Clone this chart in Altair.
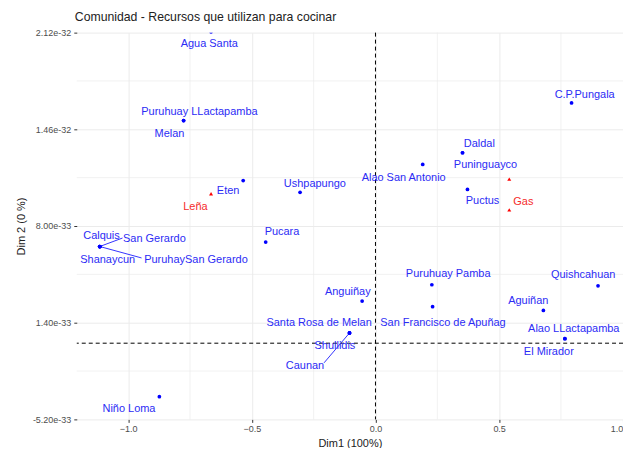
import altair as alt
import pandas as pd

TITLE = "Comunidad - Recursos que utilizan para cocinar"

# Communities (blue) -- point coordinates, y in units of 1e-33
com_names = ["Agua Santa", "Puruhuay LLactapamba", "Melan", "Eten", "Ushpapungo", "Pucara",
             "Calquis", "San Gerardo", "Shanaycun", "PuruhaySan Gerardo", "Niño Loma",
             "Santa Rosa de Melan", "Shullidis", "Caunan", "Anguiñay", "Puruhuay Pamba",
             "San Francisco de Apuñag", "Aguiñan", "Quishcahuan", "Alao LLactapamba", "El Mirador",
             "Alao San Antonio", "Daldal", "Puninguayco", "Puctus", "C.P.Pungala"]
com_x = [-0.665, -0.776, -0.776, -0.535, -0.305, -0.444,
         -1.115, -1.115, -1.115, -1.115, -0.874,
         -0.105, -0.105, -0.105, -0.054, 0.228,
         0.231, 0.679, 0.900, 0.766, 0.766,
         0.191, 0.352, 0.352, 0.372, 0.793]
com_y = [21.25, 15.2, 15.2, 11.1, 10.3, 6.9,
         6.6, 6.6, 6.6, 6.6, -3.65,
         0.7, 0.7, 0.7, 2.88, 3.99,
         2.49, 2.24, 3.92, 0.31, 0.31,
         12.2, 13.0, 13.0, 10.5, 16.4]
# Repelled label positions (data units)
com_lx = [-0.672, -0.712, -0.833, -0.596, -0.245, -0.378,
          -1.108, -0.894, -1.083, -0.726, -0.997,
          -0.228, -0.164, -0.285, -0.112, 0.294,
          0.273, 0.618, 0.840, 0.802, 0.701,
          0.114, 0.420, 0.445, 0.433, 0.846]
com_ly = [20.4, 15.8, 14.3, 10.4, 10.9, 7.6,
          7.3, 7.1, 5.7, 5.67, -4.5,
          1.4, -0.2, -1.57, 3.49, 4.71,
          1.38, 2.9, 4.67, 0.97, -0.62,
          11.3, 13.6, 12.15, 9.7, 16.96]

# Resources (red)
rec_names = ["Leña", "Gas", ""]
rec_x = [-0.665, 0.541, 0.541]
rec_y = [10.2, 9.1, 11.2]
rec_lx = [-0.728, 0.598, 0.541]
rec_ly = [9.3, 9.65, 11.2]

# Label connector segments
seg_x = [-1.115, -1.115, -0.105]
seg_y = [6.6, 6.6, 0.7]
seg_x2 = [-1.023, -0.946, -0.208]
seg_y2 = [7.18, 5.82, -1.34]

x_ticks = [-1.0, -0.5, 0.0, 0.5, 1.0]
x_minor = [-0.75, -0.25, 0.25, 0.75]
y_ticks = [-5.2, 1.4, 8.0, 14.6, 21.2]
y_minor = [-1.9, 4.7, 11.3, 17.9]

S = 1e-33
FONT = "Liberation Sans, Arial"

com = pd.DataFrame({"name": com_names, "x": com_x, "y": [v * S for v in com_y],
                    "lx": com_lx, "ly": [v * S for v in com_ly]})
rec = pd.DataFrame({"name": rec_names, "x": rec_x, "y": [v * S for v in rec_y],
                    "lx": rec_lx, "ly": [v * S for v in rec_ly]})
seg = pd.DataFrame({"x": seg_x, "y": [v * S for v in seg_y],
                    "x2": seg_x2, "y2": [v * S for v in seg_y2]})

xs = alt.Scale(domain=[-1.208, 1.001], nice=False, zero=False)
ys = alt.Scale(domain=[-5.2 * S, 21.2 * S], nice=False, zero=False)

xaxis = alt.Axis(values=x_ticks, format=".1f", grid=True, gridColor="#ebebeb",
                 domain=False, ticks=True, tickSize=3, tickColor="#333333",
                 labelColor="#4d4d4d", labelFontSize=9, labelFont=FONT,
                 title="Dim1 (100%)", titleFont=FONT, titleFontSize=11,
                 titleFontWeight="normal", titleColor="#222222", titlePadding=4)
yaxis = alt.Axis(values=[v * S for v in y_ticks],
                 labelExpr="replace(format(datum.value, '.2e'), '\u2212', '-')",
                 grid=True, gridColor="#ebebeb", domain=False, ticks=True, tickSize=3,
                 tickColor="#333333", labelColor="#4d4d4d", labelFontSize=9, labelFont=FONT,
                 labelPadding=3,
                 title="Dim 2 (0 %)", titleFont=FONT, titleFontSize=11,
                 titleFontWeight="normal", titleColor="#222222", titlePadding=6)

minor_x = alt.Chart(pd.DataFrame({"x": x_minor})).mark_rule(
    color="#ebebeb", strokeWidth=0.7).encode(x=alt.X("x:Q", scale=xs))
minor_y = alt.Chart(pd.DataFrame({"y": [v * S for v in y_minor]})).mark_rule(
    color="#ebebeb", strokeWidth=0.7).encode(y=alt.Y("y:Q", scale=ys))

base = alt.Chart(com).mark_point(opacity=0).encode(
    x=alt.X("x:Q", scale=xs, axis=xaxis),
    y=alt.Y("y:Q", scale=ys, axis=yaxis))

vline = alt.Chart(pd.DataFrame({"x": [0.0]})).mark_rule(
    color="black", strokeDash=[4, 3], strokeWidth=1).encode(x=alt.X("x:Q", scale=xs))
hline = alt.Chart(pd.DataFrame({"y": [0.0]})).mark_rule(
    color="black", strokeDash=[4, 3], strokeWidth=1).encode(y=alt.Y("y:Q", scale=ys))

segs = alt.Chart(seg).mark_rule(color="blue", strokeWidth=0.8).encode(
    x=alt.X("x:Q", scale=xs), y=alt.Y("y:Q", scale=ys), x2="x2:Q", y2="y2:Q")

com_pts = alt.Chart(com).mark_point(filled=True, shape="circle", size=14, color="blue",
                                    opacity=1, clip=True).encode(
    x=alt.X("x:Q", scale=xs), y=alt.Y("y:Q", scale=ys))
rec_pts = alt.Chart(rec).mark_point(filled=True, shape="triangle-up", size=16, color="red",
                                    opacity=1).encode(
    x=alt.X("x:Q", scale=xs), y=alt.Y("y:Q", scale=ys))

com_txt = alt.Chart(com).mark_text(font=FONT, fontSize=11, color="#2b2bf5",
                                   align="center", baseline="middle").encode(
    x=alt.X("lx:Q", scale=xs), y=alt.Y("ly:Q", scale=ys), text="name:N")
rec_txt = alt.Chart(rec).mark_text(font=FONT, fontSize=11, color="#f52b2b",
                                   align="center", baseline="middle").encode(
    x=alt.X("lx:Q", scale=xs), y=alt.Y("ly:Q", scale=ys), text="name:N")

title_txt = alt.Chart(pd.DataFrame({"t": [TITLE]})).mark_text(
    font=FONT, fontSize=12.3, color="#222222", align="left", baseline="alphabetic"
).encode(x=alt.value(-2), y=alt.value(-12), text="t:N")

chart = alt.layer(minor_x, minor_y, base, vline, hline, segs, com_pts, rec_pts,
                  com_txt, rec_txt, title_txt).properties(
    width=548, height=388,
    autosize=alt.AutoSizeParams(type="none"),
    padding={"left": 69, "top": 24, "right": 0, "bottom": 28},
).configure_view(stroke=None)

chart.save("out.html", embed_options={"renderer": "svg", "actions": False})
